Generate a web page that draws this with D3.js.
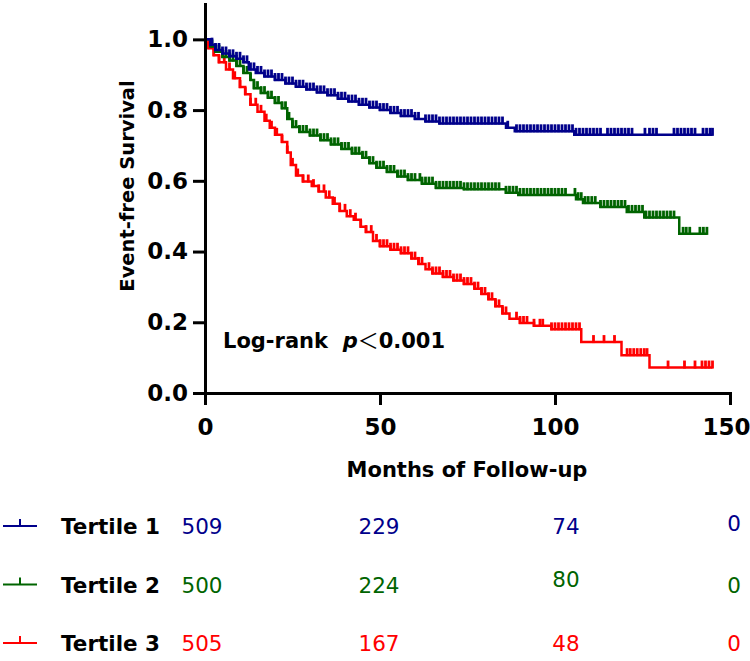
<!DOCTYPE html>
<html><head><meta charset="utf-8">
<script src="https://cdn.jsdelivr.net/npm/d3@7"></script>
<style>body{margin:0;background:#fff}text{font-family:"DejaVu Sans",sans-serif}</style>
</head><body>
<svg id="chart" width="750" height="661"></svg>
<script>
// ---------------- data ----------------
const seriesNames = ["Tertile 1", "Tertile 2", "Tertile 3"];
const seriesColors = ["#00008B", "#006400", "#FF0000"];

// Tertile 1 (blue) step curve: event times and survival after each step
const t1Times = [0,1.5,3,5,7,9,11,12.5,14.5,17,20,23,26,29,32,35,38,41,44,47,50,53,56,60,63,67,86,88.5,105.5];
const t1Surv  = [1,0.985,0.97,0.96,0.952,0.945,0.935,0.915,0.905,0.895,0.885,0.875,0.866,0.858,0.85,0.842,0.832,0.824,0.815,0.807,0.8,0.792,0.783,0.775,0.768,0.762,0.75,0.74,0.73];
const t1End = 145;
const t1Censor = [2,3,4,5,6,7,8,9,10,11,12,13,14,15,16,17,18,19,20,21,22,23,24,25,26,27,28,29,30,31,32,33,34,35,36,37,38,39,40,41,42,43,44,45,46,47,48,49,50,51,52,53,54,55,56,57,58,59,60,61,63,64,65,66,67,68,69,70,71,72,73,74,75,76,77,78,79,80,81,82,83,84,85,86.5,89,90,91,92,93,94,95,96,97,98,99,100,101,102,103,104,105,106,107,108,109,110,111,112,113,115,116,117,118,119,120,121,122,125.7,127,128,129,134,135,136,137,138,139,140,142.3,143.3,144.3,145];

// Tertile 2 (green)
const t2Times = [0,1.5,3,5,7,9,11,13,14,16,18,20,22,23.5,25,27,30,33,36,39,42,45,47,49,52,55,58,62,66,74,86,89.5,106,108,113,120.5,125.5,135.5];
const t2Surv  = [1,0.98,0.965,0.95,0.94,0.925,0.905,0.885,0.862,0.848,0.835,0.82,0.805,0.775,0.752,0.738,0.728,0.715,0.703,0.69,0.677,0.665,0.65,0.637,0.625,0.612,0.602,0.592,0.58,0.576,0.566,0.56,0.548,0.537,0.526,0.512,0.496,0.45];
const t2End = 143.5;
const t2Censor = [2,3,4,5,6,7,8,9,10,11,12,13,14,15,16,17,18,19,20,21,22,23,24,25,26,27,28,29,30,31,32,33,34,35,36,37,38,39,40,41,42,43,44,45,46,47,48,49,50,51,52,53,54,55,56,57,58,59,60,61.4,62,63,64,65,66,67,68,69,70,71,72,73,74,75,76,77,78,79,80,81,82,83,84,86,87,88,89,90,91,92,93,94,95,96,97,98,99,100,101,102,103,105.7,106.6,107.5,108.6,109.5,110.5,111.5,113,114,115,116,117,118,119,120,121,122,123,124,125,126,127,128,129,130,131,132,133,134,136.6,137.5,138.5,141.4,142.4,143.4];

// Tertile 3 (red)
const t3Times = [0,1,2.5,4,6,8,10,11.5,13,15,17,18.5,20,22,23.5,24.5,26,28,30.5,32.5,34.5,36.5,38.5,40.5,42.5,44.5,46,48,50,53,56,59,61,63,65,68,71,74,77,79,81,83,85,87,90,94,99,107.5,119,127];
const t3Surv  = [1,0.975,0.955,0.935,0.915,0.89,0.865,0.845,0.815,0.795,0.77,0.75,0.73,0.71,0.68,0.645,0.615,0.598,0.585,0.57,0.553,0.535,0.515,0.5,0.49,0.47,0.455,0.43,0.415,0.405,0.395,0.38,0.365,0.35,0.338,0.328,0.318,0.308,0.295,0.28,0.265,0.245,0.225,0.21,0.198,0.19,0.18,0.144,0.107,0.072];
const t3End = 145;
const t3Censor = [1,2.5,4,5.5,7,8.5,10,11.5,13,14.5,16,17.5,19,20.5,22,23.5,25,26.5,28,29.5,31,32.5,34,35.5,37,38.5,40,41.5,43,44.5,46,47.5,49,50,51,52,53,54,55,56,57,58,59,60,61,62,64,65,66,67,68,69,70,71,72,73,74,75,76,77,78,79,80,81,82,83,84,85,86,89,90,91,92,94,95.7,96.5,99,100,101,102,103,104,105,106,107,111,114,117,120.6,121.5,122.5,123.5,124.5,125.5,126.3,132.3,137,140,142,143,144,145];

const xTicks = [0, 50, 100, 150];
const yTicks = [0, 0.2, 0.4, 0.6, 0.8, 1.0];
const riskTimes = [0, 50, 100, 150];
const risk1 = [509, 229, 74, 0];
const risk2 = [500, 224, 80, 0];
const risk3 = [505, 167, 48, 0];

const yTitle = "Event-free Survival";
const xTitle = "Months of Follow-up";

// ---------------- drawing ----------------
const series = [
  {name: seriesNames[0], color: seriesColors[0], times: t1Times, surv: t1Surv, end: t1End, censor: t1Censor, risk: risk1},
  {name: seriesNames[1], color: seriesColors[1], times: t2Times, surv: t2Surv, end: t2End, censor: t2Censor, risk: risk2},
  {name: seriesNames[2], color: seriesColors[2], times: t3Times, surv: t3Surv, end: t3End, censor: t3Censor, risk: risk3}
];

const svg = d3.select("#chart");
const x = d3.scaleLinear().domain([0, 150]).range([205, 730]);
const y = d3.scaleLinear().domain([0, 1.1]).range([393, 4]);

// curves
const line = d3.line().x(d => x(d[0])).y(d => y(d[1])).curve(d3.curveStepAfter);
series.slice().reverse().forEach(s => {
  const pts = s.times.map((t, i) => [t, s.surv[i]]);
  pts.push([s.end, s.surv[s.surv.length - 1]]);
  const g = svg.append("g");
  g.append("path").attr("d", line(pts)).attr("fill", "none")
    .attr("stroke", s.color).attr("stroke-width", 2.5);
  const survAt = t => s.surv[Math.max(0, d3.bisectRight(s.times, t) - 1)];
  g.selectAll("line").data(s.censor).join("line")
    .attr("x1", d => x(d)).attr("x2", d => x(d))
    .attr("y1", d => y(survAt(d)) + 1).attr("y2", d => y(survAt(d)) - 7)
    .attr("stroke", s.color).attr("stroke-width", 2.8);
});

// axes
const yAxis = svg.append("g").attr("transform", `translate(${x(0)},0)`)
  .call(d3.axisLeft(y).tickValues(yTicks).tickFormat(d3.format(".1f")).tickSize(12).tickSizeOuter(0).tickPadding(5));
const xAxis = svg.append("g").attr("transform", `translate(0,${y(0)})`)
  .call(d3.axisBottom(x).tickValues(xTicks).tickSize(12).tickSizeOuter(0).tickPadding(14));
[yAxis, xAxis].forEach(a => {
  a.select(".domain").attr("stroke", "#000").attr("stroke-width", 3).attr("stroke-linecap", "square");
  a.selectAll(".tick line").attr("stroke", "#000").attr("stroke-width", 3);
  a.selectAll(".tick text").attr("fill", "#000").style("font-family", "DejaVu Sans")
    .style("font-weight", "bold").style("font-size", "23px");
});
xAxis.selectAll(".tick text").filter(d => d === 150).attr("dx", -4);

// titles
svg.append("text").attr("transform", "translate(134,186) rotate(-90)")
  .attr("text-anchor", "middle").style("font-weight", "bold").style("font-size", "19.5px").text(yTitle);
svg.append("text").attr("x", 467).attr("y", 477).attr("text-anchor", "middle")
  .style("font-weight", "bold").style("font-size", "21px").text(xTitle);

// log-rank annotation
const ann = svg.append("text").attr("x", 223).attr("y", 348).style("font-weight", "bold")
  .style("font-size", "21px").style("white-space", "pre");
ann.append("tspan").text("Log-rank  ");
ann.append("tspan").style("font-style", "italic").text("p");
ann.append("tspan").style("font-family", "Noto Sans CJK SC").style("font-weight", "normal").text("＜");
ann.append("tspan").text("0.001");

// legend + number-at-risk table
const rowY = d3.scaleLinear().domain([0, 2]).range([534, 651]);
const colNudge = [-3, -1, 11, 4];
series.forEach((s, i) => {
  const by = rowY(i);
  const lg = svg.append("g");
  lg.append("line").attr("x1", 3).attr("x2", 37).attr("y1", by - 8).attr("y2", by - 8)
    .attr("stroke", s.color).attr("stroke-width", 2);
  lg.append("line").attr("x1", 20).attr("x2", 20).attr("y1", by - 8).attr("y2", by - 15)
    .attr("stroke", s.color).attr("stroke-width", 2);
  svg.append("text").attr("x", 61).attr("y", by).style("font-weight", "bold")
    .style("font-size", "21.5px").attr("fill", "#000").text(s.name);
  svg.append("g").selectAll("text").data(s.risk).join("text")
    .attr("x", (d, j) => x(riskTimes[j]) + colNudge[j])
    .attr("y", (d, j) => by - ((i === 0 && j === 3) ? 3 : 0) - ((i === 1 && j === 2) ? 6 : 0))
    .attr("text-anchor", "middle").style("font-size", "21.5px").attr("fill", s.color)
    .text(d => d);
});
</script>
</body></html>
